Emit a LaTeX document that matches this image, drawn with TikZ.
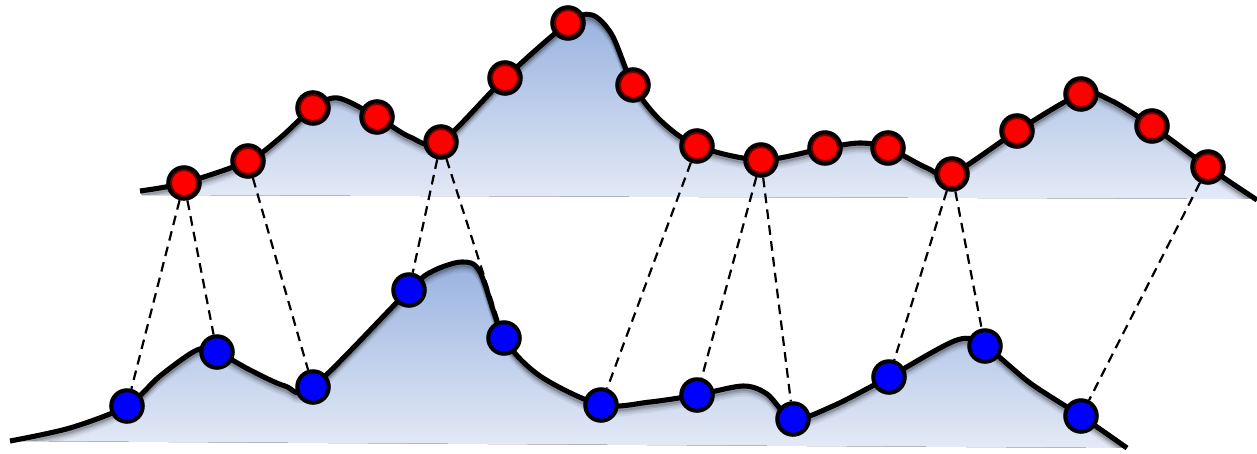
\documentclass[tikz,border=0pt]{standalone}
\pgfdeclarelayer{bg}
\pgfdeclarelayer{mid}
\pgfsetlayers{bg,mid,main}
\definecolor{fillTop}{RGB}{152,178,224}
\definecolor{fillBot}{RGB}{228,234,246}
\definecolor{ringred}{RGB}{120,0,0}
\tikzset{
  curveline/.style={line width=2.9pt, line join=round},
  reddot/.style={circle, draw=black, line width=2.3pt, fill=red, minimum size=0.63cm, inner sep=0pt,
    path picture={\draw[ringred, line width=1pt] (path picture bounding box.center) circle (0.26cm);}},
  bluedot/.style={circle, draw=black, line width=2.3pt, fill=blue, minimum size=0.63cm, inner sep=0pt},
  link/.style={line width=1.25pt, dash pattern=on 5.5pt off 3.6pt},
  hillfill/.style={top color=fillTop, bottom color=fillBot},
}
\def\topcurve{plot[smooth, tension=0.5] coordinates {(140,191) (184,183) (248,161) (280,138) (313,108) (338,98) (377,117) (410,137) (441,142) (505,78) (568,23) (592,15) (612,35) (633,85) (660,120) (697,146) (761,160) (825,148) (860,143) (888,148) (927,168) (952,174) (1017,131) (1081,94) (1110,100) (1152,126) (1208,167) (1257,200)}}
\def\botcurve{plot[smooth, tension=0.5] coordinates {(10,441) (70,428) (127,406) (160,376) (197,350) (217,352) (250,370) (285,386) (313,387) (409,290) (433,271) (462,262) (480,272) (504,338) (540,376) (601,405) (650,402) (697,395) (743,386) (767,394) (793,419) (833,406) (889,377) (957,340) (985,346) (1030,383) (1081,416) (1127,448)}}
\begin{document}
\begin{tikzpicture}[x=0.02cm, y=-0.02cm]
\useasboundingbox (0,0) rectangle (1257,453);
% red nodes
\node[reddot] (r1) at (184,183) {};
\node[reddot] (r2) at (248,161) {};
\node[reddot] (r3) at (313,108) {};
\node[reddot] (r4) at (377,117) {};
\node[reddot] (r5) at (441,142) {};
\node[reddot] (r6) at (505,78) {};
\node[reddot] (r7) at (568,23) {};
\node[reddot] (r8) at (633,85) {};
\node[reddot] (r9) at (697,146) {};
\node[reddot] (r10) at (761,160) {};
\node[reddot] (r11) at (825,148) {};
\node[reddot] (r12) at (888,148) {};
\node[reddot] (r13) at (952,174) {};
\node[reddot] (r14) at (1017,131) {};
\node[reddot] (r15) at (1081,94) {};
\node[reddot] (r16) at (1152,126) {};
\node[reddot] (r17) at (1208,167) {};
% blue nodes
\node[bluedot] (b1) at (127,406) {};
\node[bluedot] (b2) at (217,352) {};
\node[bluedot] (b3) at (313,387) {};
\node[bluedot] (b4) at (409,290) {};
\node[bluedot] (b5) at (504,338) {};
\node[bluedot] (b6) at (601,405) {};
\node[bluedot] (b7) at (697,395) {};
\node[bluedot] (b8) at (793,419) {};
\node[bluedot] (b9) at (889,377) {};
\node[bluedot] (b10) at (985,346) {};
\node[bluedot] (b11) at (1081,416) {};
\begin{pgfonlayer}{bg}
  \fill[hillfill] \topcurve -- (1257,199) -- (142,195) -- cycle;
  \fill[hillfill] \botcurve -- (10,441) -- cycle;
  \begin{scope}
    \clip \topcurve -- (1257,199) -- (142,195) -- cycle;
    \foreach \s/\o in {8/0.05, 6/0.08, 4/0.12, 2.5/0.18}{
      \begin{scope}[shift={(0,\s)}]
        \draw[black, opacity=\o, line width=2.9pt] \topcurve;
      \end{scope}}
  \end{scope}
  \begin{scope}
    \clip \botcurve -- (10,441) -- cycle;
    \foreach \s/\o in {8/0.05, 6/0.08, 4/0.12, 2.5/0.18}{
      \begin{scope}[shift={(0,\s)}]
        \draw[black, opacity=\o, line width=2.9pt] \botcurve;
      \end{scope}}
  \end{scope}
  \draw[curveline] \topcurve;
  \draw[curveline] \botcurve;
\end{pgfonlayer}
\begin{pgfonlayer}{mid}
  \draw[link] (r1) -- (b1);
  \draw[link] (r1) -- (b2);
  \draw[link] (r2) -- (b3);
  \draw[link] (r5) -- (b4);
  \draw[link] (r5) -- (b5);
  \draw[link] (r9) -- (b6);
  \draw[link] (r10) -- (b7);
  \draw[link] (r10) -- (b8);
  \draw[link] (r13) -- (b9);
  \draw[link] (r13) -- (b10);
  \draw[link] (r17) -- (b11);
\end{pgfonlayer}
\end{tikzpicture}
\end{document}
